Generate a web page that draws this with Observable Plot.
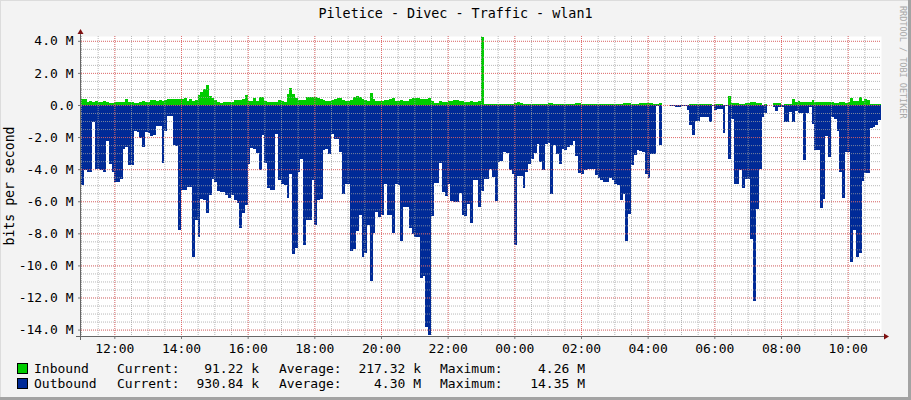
<!DOCTYPE html>
<html>
<head>
<meta charset="utf-8">
<script src="https://cdn.jsdelivr.net/npm/d3@7"></script>
<script src="https://cdn.jsdelivr.net/npm/@observablehq/plot@0.6"></script>
<style>
html, body { margin: 0; padding: 0; background: #F3F3F3; }
#frame { position: relative; width: 911px; height: 400px; background: #F3F3F3; overflow: hidden;
  font-family: 'DejaVu Sans Mono', monospace; color: #000; }
#frame svg { position: absolute; left: 0; top: 0; }
.edge { position: absolute; }
#title { position: absolute; left: 0; top: 6px; width: 911px; text-align: center; font-size: 13.4px; line-height: 16px; }
#ylabel { position: absolute; left: 10px; top: 186px; transform: translate(-50%, -50%) rotate(-90deg);
  font-size: 13.2px; white-space: nowrap; line-height: 16px; }
#credit { position: absolute; left: 898px; top: 6px; writing-mode: vertical-rl; font-size: 8.5px; color: #A8A8A8;
  white-space: nowrap; line-height: 10px; }
.lg { position: absolute; font-size: 13px; line-height: 15px; white-space: pre; }
.box { position: absolute; width: 9px; height: 9px; border: 1px solid #000; }
</style>
</head>
<body>
<div id="frame">
  <div id="title"></div>
  <div id="ylabel">bits per second</div>
  <div id="credit">RRDTOOL / TOBI OETIKER</div>
  <div id="legend"></div>
  <div class="edge" style="left:0;top:0;width:911px;height:1px;background:#DCDCDC"></div>
  <div class="edge" style="left:0;top:0;width:1px;height:400px;background:#DCDCDC"></div>
  <div class="edge" style="left:908px;top:0;width:3px;height:400px;background:#A3A3A3"></div>
  <div class="edge" style="left:0;top:397px;width:911px;height:3px;background:#A3A3A3"></div>
</div>
<script>
// ---- data (Mbit/s, 5-minute steps from 11:00 to 11:00 next day) ----
const title = "Piletice - Divec - Traffic - wlan1";
const seriesNames = ["Inbound", "Outbound"];
const seriesColors = ["#00CC00", "#002A97"];
const statCurrent = ["91.22 k", "930.84 k"];
const statAverage = ["217.32 k", "4.30 M"];
const statMaximum = ["4.26 M", "14.35 M"];

const inbound = [
  0.4,0.4,0.2,0.25,0.2,0.25,0.2,0.2,0.25,0.2, 0.15,0.15,0.2,0.2,0.2,0.2,0.4,0.2,0.2,0.15, 0.15,0.2,0.25,0.2,0.2,0.3,0.3,0.25,0.3,0.25, 0.3,0.4,0.4,0.4,0.35,0.35,
  0.37,0.45,0.25,0.37,0.25,0.29,0.6,0.78,1.0,1.24, 0.54,0.45,0.29,0.2,0.12,0.2,0.2,0.2,0.2,0.33, 0.33,0.33,0.37,0.62,0.25,0.25,0.41,0.25,0.52,0.52, 0.25,0.16,0.16,0.16,0.16,0.33,
  0.25,0.2,0.68,1.05,0.68,0.41,0.33,0.29,0.29,0.52, 0.52,0.52,0.5,0.45,0.37,0.29,0.25,0.25,0.31,0.37, 0.41,0.41,0.29,0.25,0.25,0.29,0.52,0.58,0.5,0.37, 0.29,0.25,0.74,0.37,0.25,0.25,
  0.25,0.29,0.29,0.37,0.45,0.25,0.27,0.29,0.25,0.25, 0.37,0.41,0.41,0.41,0.37,0.37,0.37,0.45,0.25,0.12, 0.12,0.25,0.2,0.2,0.25,0.27,0.29,0.31,0.25,0.25, 0.2,0.2,0.25,0.2,0.2,0.25,
  4.26,0.08,0.08,0.08,0.08,0.08,0.06,0.06,0.06,0.06, 0.06,0.08,0.15,0.2,0.1,0.08,0.06,0.06,0.06,0.06, 0.06,0.06,0.06,0.08,0.1,0.14,0.08,0.06,0.06,0.06, 0.04,0.04,0.04,0.06,0.1,0.1,
  0.08,0.08,0.08,0.08,0.08,0.08,0.08,0.08,0.08,0.08, 0.06,0.06,0.06,0.08,0.08,0.15,0.15,0.15,0.08,0.06, 0.06,0.1,0.1,0.1,0.1,0.1,0.06,0.04,0.12,0.02, 0.02,0.02,0.02,0.02,0.02,0.02,
  0.02,0.02,0.02,0.08,0.08,0.08,0.08,0.08,0.08,0.08, 0.04,0.02,0.06,0.06,0.06,0.02,0.02,0.55,0.12,0.12, 0.12,0.08,0.08,0.12,0.12,0.18,0.18,0.12,0.12,0.02, 0.06,0.02,0.02,0.1,0.1,0.1,
  0.02,0.08,0.08,0.08,0.37,0.2,0.25,0.2,0.16,0.16, 0.16,0.33,0.2,0.2,0.2,0.16,0.16,0.16,0.2,0.12, 0.12,0.2,0.2,0.12,0.2,0.41,0.25,0.25,0.5,0.25, 0.37,0.3,0.08,0.08,0.08,0.09
];

const outbound = [
  5.0,4.07,4.17,4.2,1.03,3.97,4.0,4.07,4.2,2.27, 3.66,4.17,4.8,4.8,4.6,2.73,2.65,3.76,3.72,1.6, 1.7,2.07,2.62,1.7,1.74,1.94,1.9,1.28,1.28,3.62, 1.65,0.66,0.7,2.52,2.56,7.79,
  5.3,5.3,5.1,5.1,9.5,7.2,8.2,5.85,5.9,6.75, 5.6,4.6,4.8,5.37,5.4,5.45,5.58,5.82,5.6,5.93, 6.13,7.64,6.75,6.24,3.66,2.7,2.77,3.0,4.05,1.9, 3.62,5.18,5.3,5.3,1.83,4.68,
  4.95,5.0,5.8,4.33,9.28,8.9,4.16,3.34,8.7,7.2, 7.17,4.7,7.46,5.92,5.86,2.82,2.76,3.05,1.79,2.14, 2.14,2.93,5.52,4.95,4.95,9.1,9.0,7.88,6.85,9.48, 9.2,7.46,10.97,8.0,6.64,7.0,
  6.85,4.95,6.85,6.85,8.0,4.95,5.0,8.5,6.33,6.33, 7.67,8.04,8.2,8.25,10.76,10.66,13.86,14.35,6.95,4.87, 4.87,3.61,5.4,5.67,4.95,5.96,6.02,6.02,5.5,6.85, 6.9,6.19,7.36,4.7,4.7,6.33,
  5.37,4.62,4.62,4.0,4.48,5.98,3.55,3.5,2.9,2.97, 4.06,4.33,8.74,4.4,4.4,5.15,4.16,3.65,3.38,3.0, 2.43,3.55,4.06,2.41,2.35,5.52,2.52,3.03,3.65,2.72, 2.82,2.62,2.52,2.25,3.18,4.27,
  4.33,4.06,4.0,4.0,4.0,4.37,4.58,4.7,4.8,4.83, 4.54,4.7,4.9,5.0,5.92,5.57,8.45,6.77,3.76,3.14, 2.8,2.89,2.93,4.33,4.58,3.03,3.03,0.08,2.52,0.02, 0.02,0.02,0.05,0.05,0.1,0.1,
  0.04,0.08,0.3,1.24,1.9,0.97,0.97,0.76,0.76,0.76, 1.07,0.08,0.29,0.25,0.25,1.74,0.04,3.34,0.87,4.9, 4.9,4.06,5.2,4.62,4.62,8.33,12.2,6.47,4.0,0.76, 0.5,0.02,0.02,0.14,0.35,0.14,
  0.1,1.07,1.07,0.45,1.03,0.35,0.5,0.5,3.45,0.5, 0.14,1.2,2.83,2.83,6.4,5.86,1.94,3.26,0.76,0.9, 1.65,4.2,5.78,2.93,2.93,9.78,7.78,9.5,9.24,4.75, 4.23,4.23,1.44,1.38,1.24,0.93
];

const yTicks = [-14, -12, -10, -8, -6, -4, -2, 0, 2, 4];
const xTickLabels = ["12:00","14:00","16:00","18:00","20:00","22:00","00:00","02:00","04:00","06:00","08:00","10:00"];

// ---- build table ----
const start = new Date(2024, 0, 1, 11, 0);
const stepMs = 5 * 60 * 1000;
const end = new Date(+start + inbound.length * stepMs);
const rows = inbound.map((v, i) => ({t: new Date(+start + i * stepMs), inb: v, out: -outbound[i]}));
rows.push({t: end, inb: inbound[inbound.length - 1], out: -outbound[outbound.length - 1]});

const parseHM = (s) => {
  const [h, m] = s.split(":").map(Number);
  const d = new Date(2024, 0, 1, h, m);
  if (d < start) d.setDate(d.getDate() + 1);
  return d;
};
const xMajor = xTickLabels.map(parseHM);
const xMinor = d3.timeMinute.every(30).range(start, end);
const yMinor = d3.range(-14, 4.01, 0.5);
const fmtY = (v) => v === 0 ? "0.0" : v.toFixed(1) + " M";

const L = 81, R = 881, T = 36, B = 336;
const grid = {strokeDasharray: "1,1", ariaLabel: "gridrule"};

const chart = Plot.plot({
  width: 911, height: 358,
  marginLeft: L, marginRight: 911 - R, marginTop: T, marginBottom: 358 - B,
  style: {background: "transparent", fontFamily: "'DejaVu Sans Mono', monospace", fontSize: "13px", color: "#000", overflow: "visible"},
  x: {type: "time", domain: [start, end]},
  y: {domain: [-14.4, 4.3]},
  marks: [
    Plot.frame({fill: "white", stroke: "none"}),
    Plot.areaY(rows, {x: "t", y: "inb", fill: seriesColors[0], curve: "step-after", shapeRendering: "crispEdges"}),
    Plot.areaY(rows, {x: "t", y: "out", fill: seriesColors[1], curve: "step-after", shapeRendering: "crispEdges"}),
    Plot.ruleY(yMinor, {stroke: "#A0A0A0", strokeOpacity: 0.75, ...grid}),
    Plot.ruleX(xMinor, {stroke: "#A0A0A0", strokeOpacity: 0.75, ...grid}),
    Plot.ruleY(yTicks, {stroke: "#FF4040", strokeOpacity: 0.6, ...grid}),
    Plot.ruleX(xMajor, {stroke: "#FF4040", strokeOpacity: 0.6, ...grid}),
    Plot.axisY(yTicks, {tickSize: 3, tickPadding: 5, tickFormat: fmtY, label: null, stroke: "#777"}),
    Plot.axisX(xMajor, {tickSize: 3, tickPadding: 4, tickFormat: (d, i) => xTickLabels[i], label: null, stroke: "#777"})
  ]
});
document.getElementById("frame").appendChild(chart);

// snap grid rules to whole pixels so the dotted lines stay crisp
d3.select(chart).selectAll("g[aria-label='gridrule'] line").each(function () {
  const el = d3.select(this);
  ["x1", "x2", "y1", "y2"].forEach((a) => {
    const v = el.attr(a);
    if (v != null) el.attr(a, Math.round(+v));
  });
});

// axis lines with arrow heads
const svg = d3.select(chart);
svg.append("line").attr("x1", L - 5).attr("x2", R + 3).attr("y1", B + 0.5).attr("y2", B + 0.5)
  .attr("stroke", "#666").attr("stroke-width", 1);
svg.append("line").attr("x1", L - 0.5).attr("x2", L - 0.5).attr("y1", B + 4).attr("y2", T - 3)
  .attr("stroke", "#666").attr("stroke-width", 1);
svg.append("path").attr("d", `M${R + 3},${B - 2.5}L${R + 8},${B + 0.5}L${R + 3},${B + 3.5}Z`).attr("fill", "#7F1010");
svg.append("path").attr("d", `M${L - 3.5},${T - 2}L${L - 0.5},${T - 7}L${L + 2.5},${T - 2}Z`).attr("fill", "#7F1010");

// title & legend
document.getElementById("title").textContent = title;
const lg = document.getElementById("legend");
const rowY = [361, 376];
seriesNames.forEach((name, i) => {
  const y = rowY[i];
  const add = (html, css) => { const d = document.createElement("div"); d.className = "lg"; d.textContent = html; d.style.cssText = css; lg.appendChild(d); };
  const b = document.createElement("div"); b.className = "box";
  b.style.cssText = `left:17px;top:${y + 2}px;background:${seriesColors[i]}`; lg.appendChild(b);
  add(name, `left:34px;top:${y}px`);
  add("Current:", `left:117px;top:${y}px`);
  add(statCurrent[i], `right:${911 - 259}px;top:${y}px;text-align:right`);
  add("Average:", `left:279px;top:${y}px`);
  add(statAverage[i], `right:${911 - 421}px;top:${y}px;text-align:right`);
  add("Maximum:", `left:440px;top:${y}px`);
  add(statMaximum[i], `right:${911 - 585}px;top:${y}px;text-align:right`);
});
</script>
</body>
</html>
